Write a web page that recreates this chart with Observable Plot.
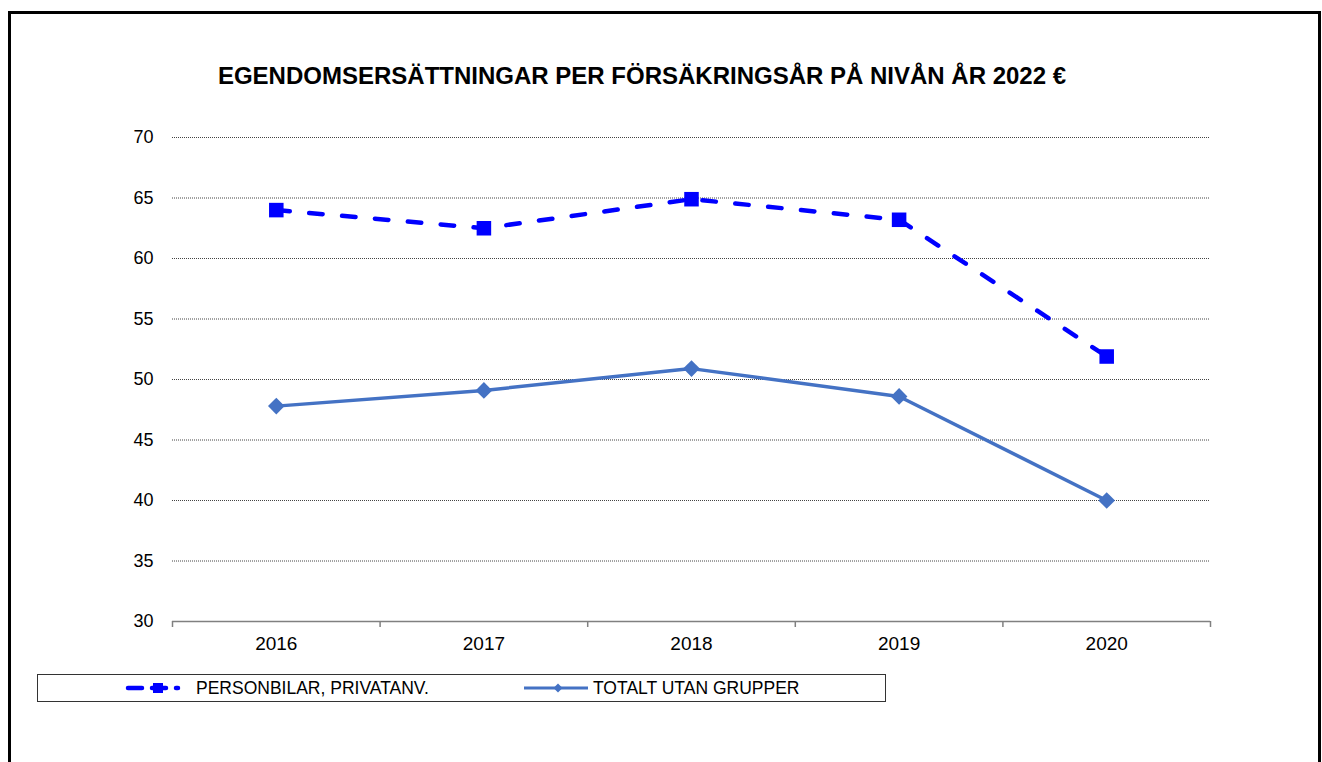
<!DOCTYPE html>
<html>
<head>
<meta charset="utf-8">
<script src="https://cdn.jsdelivr.net/npm/d3@7"></script>
<script src="https://cdn.jsdelivr.net/npm/@observablehq/plot@0.6"></script>
<style>
  html, body { margin: 0; padding: 0; background: #fff; overflow: hidden; }
  body { width: 1322px; height: 762px; position: relative; font-family: "Liberation Sans", Arial, sans-serif; }
  #frame { position: absolute; left: 8px; top: 11px; width: 1313px; height: 800px; border: 3px solid #000; box-sizing: border-box; }
  #title { position: absolute; left: 0; width: 1284px; top: 62px; text-align: center; font-weight: bold; font-size: 24px; color: #000; white-space: nowrap; }
  #chart { position: absolute; left: 0; top: 0; }
  #legend { position: absolute; left: 37px; top: 674px; width: 849px; height: 28px; border: 1px solid #333; box-sizing: border-box; font-size: 17.5px; color: #000; }
  .item { position: absolute; top: 0; height: 26px; display: flex; align-items: center; }
  .item svg { display: block; }
  .item span { white-space: nowrap; }
</style>
</head>
<body>
<div id="frame"></div>
<div id="title"></div>
<div id="chart"></div>
<div id="legend"></div>
<script>
const titleText = "EGENDOMSERSÄTTNINGAR PER FÖRSÄKRINGSÅR PÅ NIVÅN ÅR 2022 €";
const years = [2016, 2017, 2018, 2019, 2020];
const seriesNames = ["PERSONBILAR, PRIVATANV.", "TOTALT UTAN GRUPPER"];
const personbilar = [64.0, 62.5, 64.9, 63.2, 51.9];
const totalt = [47.8, 49.1, 50.9, 48.6, 40.0];
const yTicks = [30, 35, 40, 45, 50, 55, 60, 65, 70];
const colors = ["#0000FF", "#4472C4"];

document.getElementById("title").textContent = titleText;

const boundaries = [years[0] - 0.5, ...years.map(y => y + 0.5)];
const rowsP = years.map((y, i) => ({year: y, value: personbilar[i]}));
const rowsT = years.map((y, i) => ({year: y, value: totalt[i]}));

const plot = Plot.plot({
  width: 1322,
  height: 700,
  marginLeft: 172,
  marginRight: 112,
  marginTop: 137,
  marginBottom: 79,
  style: {fontFamily: "'Liberation Sans', Arial, sans-serif", background: "transparent", color: "#000"},
  x: {type: "linear", domain: [boundaries[0], boundaries[boundaries.length - 1]]},
  y: {domain: [30, 70]},
  marks: [
    Plot.gridY(yTicks.filter(t => t > 30), {stroke: "#444", strokeOpacity: 1, strokeWidth: 1, strokeDasharray: "1 1"}),
    Plot.ruleY([30], {stroke: "#808080", strokeWidth: 1.5}),
    Plot.axisY({ticks: yTicks, tickSize: 0, tickPadding: 19, fontSize: 18, tickFormat: d => String(d), label: null}),
    Plot.axisX({ticks: boundaries, tickSize: 6, tickFormat: () => "", stroke: "#808080", strokeWidth: 1.5, label: null}),
    Plot.axisX({ticks: years, tickSize: 0, tickPadding: 15, fontSize: 19, tickFormat: d => String(d), label: null}),
    Plot.line(rowsT, {x: "year", y: "value", stroke: colors[1], strokeWidth: 3.5}),
    Plot.dot(rowsT, {x: "year", y: "value", symbol: "diamond2", r: 7.5, fill: colors[1], stroke: "none"}),
    Plot.line(rowsP, {x: "year", y: "value", stroke: colors[0], strokeWidth: 4.5, strokeDasharray: "13.5 19.5", strokeLinecap: "round"}),
    Plot.dot(rowsP, {x: "year", y: "value", symbol: "square", r: 8.2, fill: colors[0], stroke: "none"})
  ]
});
document.getElementById("chart").appendChild(plot);

// Legend
const legend = d3.select("#legend");
const item1 = legend.append("div").attr("class", "item").style("left", (124 - 38) + "px");
const s1 = item1.append("svg").attr("width", 58).attr("height", 26);
s1.append("line").attr("x1", 4).attr("x2", 54).attr("y1", 13).attr("y2", 13)
  .attr("stroke", colors[0]).attr("stroke-width", 4.5).attr("stroke-dasharray", "14 10").attr("stroke-linecap", "round");
s1.append("rect").attr("x", 29).attr("y", 8).attr("width", 10).attr("height", 10).attr("fill", colors[0]);
item1.append("span").text(seriesNames[0]).style("margin-left", "14px");

const item2 = legend.append("div").attr("class", "item").style("left", (524 - 38) + "px");
const s2 = item2.append("svg").attr("width", 64).attr("height", 26);
s2.append("line").attr("x1", 0).attr("x2", 64).attr("y1", 13).attr("y2", 13)
  .attr("stroke", colors[1]).attr("stroke-width", 3);
s2.append("path").attr("d", "M34,8.5L38.5,13L34,17.5L29.5,13Z").attr("fill", colors[1]);
item2.append("span").text(seriesNames[1]).style("margin-left", "5px");
</script>
</body>
</html>
